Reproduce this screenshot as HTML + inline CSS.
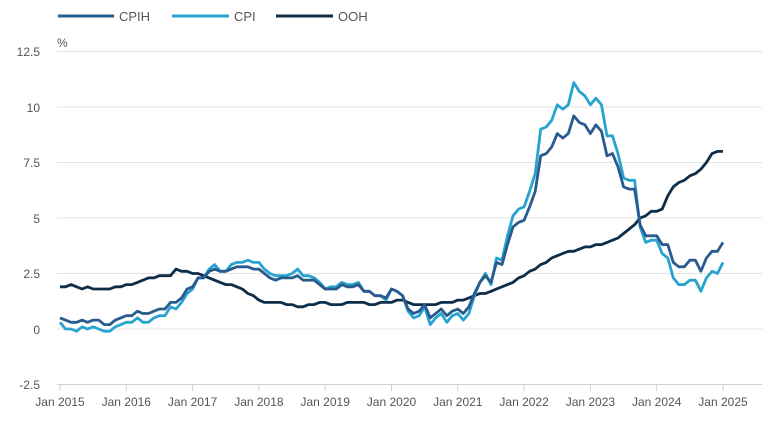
<!DOCTYPE html>
<html><head><meta charset="utf-8"><style>
html,body{margin:0;padding:0;background:#fff;}
svg{display:block;font-family:"Liberation Sans",sans-serif;}
</style></head><body>
<svg id="c" width="775" height="433" xmlns="http://www.w3.org/2000/svg">
<g stroke="#e3e3e3" stroke-width="1">
<line x1="57" x2="762" y1="51.5" y2="51.5"/>
<line x1="57" x2="762" y1="107" y2="107"/>
<line x1="57" x2="762" y1="162.5" y2="162.5"/>
<line x1="57" x2="762" y1="218" y2="218"/>
<line x1="57" x2="762" y1="273.5" y2="273.5"/>
<line x1="57" x2="762" y1="329" y2="329"/>
</g>
<line x1="57" x2="762" y1="384.5" y2="384.5" stroke="#cfcfcf"/>
<g fill="#555" font-size="12" text-anchor="end">
<text x="40" y="56">12.5</text><text x="40" y="112">10</text><text x="40" y="167">7.5</text>
<text x="40" y="223">5</text><text x="40" y="278">2.5</text><text x="40" y="334">0</text><text x="40" y="389">-2.5</text>
</g>
<text x="57" y="47" fill="#555" font-size="12">%</text>
<g id="ticks" stroke="#cfcfcf"></g>
<g id="xl" fill="#555" font-size="12" text-anchor="middle"></g>
<g id="lines" fill="none" stroke-width="2.8" stroke-linejoin="round"></g>
<g font-size="13" fill="#555">
<line x1="58" x2="114" y1="16" y2="16" stroke="#2a5b8f" stroke-width="3"/><text x="119" y="21">CPIH</text>
<line x1="172" x2="229" y1="16" y2="16" stroke="#27a3cf" stroke-width="3"/><text x="234" y="21">CPI</text>
<line x1="276" x2="333" y1="16" y2="16" stroke="#0e2d48" stroke-width="3"/><text x="338" y="21">OOH</text>
</g>
</svg>
<script>
var cpi=[0.3,0.0,0.0,-0.1,0.1,0.0,0.1,0.0,-0.1,-0.1,0.1,0.2,0.3,0.3,0.5,0.3,0.3,0.5,0.6,0.6,1.0,0.9,1.2,1.6,1.8,2.3,2.3,2.7,2.9,2.6,2.6,2.9,3.0,3.0,3.1,3.0,3.0,2.7,2.5,2.4,2.4,2.4,2.5,2.7,2.4,2.4,2.3,2.1,1.8,1.9,1.9,2.1,2.0,2.0,2.1,1.7,1.7,1.5,1.5,1.3,1.8,1.7,1.5,0.8,0.5,0.6,1.0,0.2,0.5,0.7,0.3,0.6,0.7,0.4,0.7,1.5,2.1,2.5,2.0,3.2,3.1,4.2,5.1,5.4,5.5,6.2,7.0,9.0,9.1,9.4,10.1,9.9,10.1,11.1,10.7,10.5,10.1,10.4,10.1,8.7,8.7,7.9,6.8,6.7,6.7,4.6,3.9,4.0,4.0,3.4,3.2,2.3,2.0,2.0,2.2,2.2,1.7,2.3,2.6,2.5,3.0];
var cpih=[0.5,0.4,0.3,0.3,0.4,0.3,0.4,0.4,0.2,0.2,0.4,0.5,0.6,0.6,0.8,0.7,0.7,0.8,0.9,0.9,1.2,1.2,1.4,1.8,1.9,2.3,2.3,2.6,2.7,2.6,2.6,2.7,2.8,2.8,2.8,2.7,2.7,2.5,2.3,2.2,2.3,2.3,2.3,2.4,2.2,2.2,2.2,2.0,1.8,1.8,1.8,2.0,1.9,1.9,2.0,1.7,1.7,1.5,1.5,1.4,1.8,1.7,1.5,0.9,0.7,0.8,1.1,0.5,0.7,0.9,0.6,0.8,0.9,0.7,1.0,1.6,2.1,2.4,2.1,3.0,2.9,3.8,4.6,4.8,4.9,5.5,6.2,7.8,7.9,8.2,8.8,8.6,8.8,9.6,9.3,9.2,8.8,9.2,8.9,7.8,7.9,7.3,6.4,6.3,6.3,4.7,4.2,4.2,4.2,3.8,3.8,3.0,2.8,2.8,3.1,3.1,2.6,3.2,3.5,3.5,3.9];
var ooh=[1.9,1.9,2.0,1.9,1.8,1.9,1.8,1.8,1.8,1.8,1.9,1.9,2.0,2.0,2.1,2.2,2.3,2.3,2.4,2.4,2.4,2.7,2.6,2.6,2.5,2.5,2.4,2.3,2.2,2.1,2.0,2.0,1.9,1.8,1.6,1.5,1.3,1.2,1.2,1.2,1.2,1.1,1.1,1.0,1.0,1.1,1.1,1.2,1.2,1.1,1.1,1.1,1.2,1.2,1.2,1.2,1.1,1.1,1.2,1.2,1.2,1.3,1.3,1.2,1.1,1.1,1.1,1.1,1.1,1.2,1.2,1.2,1.3,1.3,1.4,1.5,1.6,1.6,1.7,1.8,1.9,2.0,2.1,2.3,2.4,2.6,2.7,2.9,3.0,3.2,3.3,3.4,3.5,3.5,3.6,3.7,3.7,3.8,3.8,3.9,4.0,4.1,4.3,4.5,4.7,5.0,5.1,5.3,5.3,5.4,6.0,6.4,6.6,6.7,6.9,7.0,7.2,7.5,7.9,8.0,8.0];
var x0=60,xs=(723-60)/120,y0=329,ys=55.5/2.5,ns="http://www.w3.org/2000/svg";
function add(d,c){var p=document.createElementNS(ns,"polyline");p.setAttribute("points",d.map(function(v,i){return (x0+i*xs).toFixed(1)+","+(y0-v*ys).toFixed(1)}).join(" "));p.setAttribute("stroke",c);document.getElementById("lines").appendChild(p);}
add(ooh,"#0e2d48");add(cpi,"#27a3cf");add(cpih,"#2a5b8f");
for(var y=0;y<=10;y++){var x=x0+y*12*xs;var l=document.createElementNS(ns,"line");l.setAttribute("x1",x);l.setAttribute("x2",x);l.setAttribute("y1",385);l.setAttribute("y2",391);document.getElementById("ticks").appendChild(l);
var t=document.createElementNS(ns,"text");t.setAttribute("x",x);t.setAttribute("y",406);t.textContent="Jan "+(2015+y);document.getElementById("xl").appendChild(t);}
</script>
</body></html>
